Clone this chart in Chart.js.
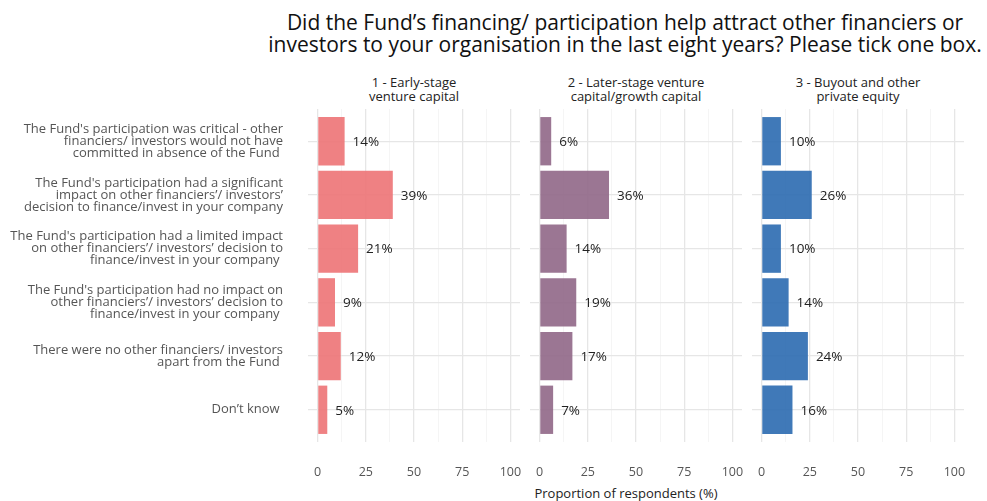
<!DOCTYPE html>
<html>
<head>
<meta charset="utf-8">
<script src="https://cdn.jsdelivr.net/npm/chart.js@4"></script>
<style>
  body { margin: 0; background: #fff; font-family: "Open Sans", sans-serif; }
  #wrap { position: relative; width: 987px; height: 501px; overflow: hidden; }
  canvas { position: absolute; top: 0; }
  .txt { position: absolute; text-align: center; white-space: nowrap; }
  #title { left: 225px; width: 800px; top: 11px; font-size: 21px; line-height: 22px; color: #111; }
  .strip { top: 75px; width: 212px; font-size: 13px; line-height: 14px; color: #222; }
  #xtitle { left: 326px; width: 600px; top: 484px; font-size: 13px; color: #222; }
</style>
</head>
<body>
<div id="wrap">
  <div id="title" class="txt">Did the Fund’s financing/ participation help attract other financiers or<br>investors to your organisation in the last eight years? Please tick one box.</div>
  <div class="txt strip" style="left:308px">1 - Early-stage<br>venture capital</div>
  <div class="txt strip" style="left:530px">2 - Later-stage venture<br>capital/growth capital</div>
  <div class="txt strip" style="left:752px">3 - Buyout and other<br>private equity</div>
  <div id="xtitle" class="txt">Proportion of respondents (%)</div>
  <canvas id="c1" width="525" height="501" style="left:0px"></canvas>
  <canvas id="c2" width="222" height="501" style="left:525px"></canvas>
  <canvas id="c3" width="222" height="501" style="left:747px"></canvas>
</div>
<script>
// Categorías (etiquetas en varias líneas)
const categories = [
  ["The Fund's participation was critical - other", "financiers/ investors would not have", "committed in absence of the Fund "],
  ["The Fund's participation had a significant", "impact on other financiers’/ investors’", "decision to finance/invest in your company"],
  ["The Fund's participation had a limited impact", "on other financiers’/ investors’ decision to", "finance/invest in your company "],
  ["The Fund's participation had no impact on", "other financiers’/ investors’ decision to", "finance/invest in your company "],
  ["There were no other financiers/ investors", "apart from the Fund "],
  ["Don’t know "]
];

// Valores por panel (%)
const earlyStage = [14, 39, 21, 9, 12, 5];
const laterStage = [6, 36, 14, 19, 17, 7];
const buyout = [10, 26, 10, 14, 24, 16];

const tickValues = [0, 12.5, 25, 37.5, 50, 62.5, 75, 87.5, 100];
const tickLabels = ["0", "25", "50", "75", "100"];

// Etiquetas de porcentaje al final de cada barra
const barLabels = {
  id: "barLabels",
  afterDatasetsDraw(chart) {
    const ctx = chart.ctx;
    const meta = chart.getDatasetMeta(0);
    ctx.save();
    ctx.font = '13.5px "Open Sans", sans-serif';
    ctx.fillStyle = "#222";
    ctx.textAlign = "left";
    ctx.textBaseline = "middle";
    meta.data.forEach((bar, i) => {
      ctx.fillText(chart.data.datasets[0].data[i].x + "%", bar.x + 8, bar.y + 1);
    });
    ctx.restore();
  },
};

function createPanel(id, values, color, showLabels, padLeft, padRight) {
  const ctx = document.getElementById(id).getContext("2d");
  return new Chart(ctx, {
    type: "bar",
    data: {
      datasets: [
        {
          // posición 1..6 en el eje y (como el factor de ggplot)
          data: values.map((v, i) => ({ x: v, y: i + 1 })),
          backgroundColor: color,
          borderWidth: 0,
          barPercentage: 0.9,
          categoryPercentage: 1,
        },
      ],
    },
    options: {
      indexAxis: "y",
      responsive: false,
      animation: false,
      layout: { padding: { top: 109, bottom: 0, left: padLeft, right: padRight } },
      plugins: { legend: { display: false }, tooltip: { enabled: false } },
      scales: {
        x: {
          min: -5,
          max: 105,
          afterBuildTicks: (scale) => {
            scale.ticks = tickValues.map((v) => ({ value: v }));
          },
          afterFit: (scale) => {
            scale.height = 59;
          },
          grid: {
            color: (c) => (c.tick && c.tick.value % 25 === 0 ? "#e6e6e6" : "#f2f2f2"),
            lineWidth: (c) => (c.tick && c.tick.value % 25 === 0 ? 1.3 : 0.8),
            drawTicks: true,
            tickLength: 22,
            tickColor: "rgba(0,0,0,0)",
          },
          border: { display: false },
          ticks: {
            padding: 1,
            autoSkip: false,
            maxRotation: 0,
            color: "#555",
            font: { family: "Open Sans", size: 12.5 },
            callback: (v) => (v % 25 === 0 ? tickLabels[v / 25] : ""),
          },
        },
        y: {
          type: "linear",
          reverse: true,
          offset: false,
          min: 0.4,
          max: 6.6,
          afterBuildTicks: (scale) => {
            scale.ticks = categories.map((_, i) => ({ value: i + 1 }));
          },
          afterFit: (scale) => {
            scale.width = showLabels ? 308 : 0;
          },
          grid: { offset: false, color: "#e6e6e6", lineWidth: 1.3, drawTicks: false },
          border: { display: false },
          ticks: {
            display: showLabels,
            autoSkip: false,
            padding: 25,
            color: "#555",
            font: { family: "Open Sans", size: 13, lineHeight: 0.92 },
            callback: (v) => categories[v - 1],
          },
        },
      },
    },
    plugins: [barLabels],
  });
}

createPanel("c1", earlyStage, "rgba(238,118,120,0.92)", true, 0, 5);
createPanel("c2", laterStage, "rgba(146,106,138,0.92)", false, 5, 5);
createPanel("c3", buyout, "rgba(48,110,178,0.92)", false, 5, 5);
</script>
</body>
</html>
